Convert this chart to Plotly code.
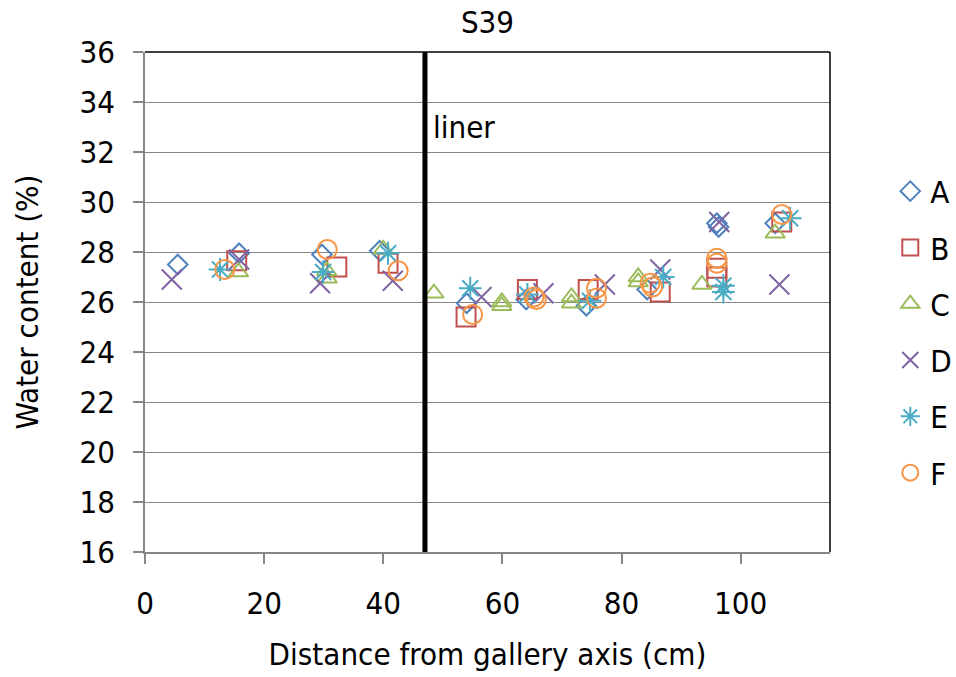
import plotly.graph_objects as go

# ---- data ----
series_names = ["A", "B", "C", "D", "E", "F"]

xA = [5.5, 15.8, 29.7, 39.4, 54.0, 64.0, 74.1, 84.3, 96.0, 96.3, 105.8]
yA = [27.5, 27.95, 27.9, 28.05, 25.95, 26.1, 25.85, 26.5, 29.15, 29.0, 29.15]

xB = [15.4, 32.2, 40.8, 53.9, 64.2, 74.4, 86.5, 96.0, 96.0, 106.9]
yB = [27.65, 27.4, 27.55, 25.4, 26.5, 26.5, 26.4, 27.35, 27.0, 29.2]

xC = [15.7, 30.5, 30.6, 40.0, 48.5, 59.9, 59.9, 71.6, 71.6, 82.8, 82.8, 93.5, 105.8]
yC = [27.2, 27.25, 26.95, 28.1, 26.35, 26.0, 25.85, 26.2, 25.95, 27.0, 26.8, 26.7, 28.75]

xD = [4.5, 15.8, 29.4, 41.6, 56.5, 66.9, 77.2, 86.5, 96.4, 106.5]
yD = [26.9, 27.7, 26.75, 26.85, 26.2, 26.35, 26.7, 27.3, 29.2, 26.7]

xE = [12.6, 29.9, 40.8, 54.6, 64.2, 74.7, 87.0, 97.1, 97.1, 108.3]
yE = [27.3, 27.2, 27.95, 26.55, 26.3, 26.05, 27.0, 26.65, 26.4, 29.35]

xF = [13.4, 30.6, 42.5, 55.0, 65.3, 65.7, 75.8, 75.8, 84.8, 85.2, 96.0, 96.0, 106.9]
yF = [27.3, 28.1, 27.25, 25.5, 26.2, 26.1, 26.55, 26.15, 26.75, 26.6, 27.75, 27.55, 29.5]

liner_x = 47
x_range = [0, 115]
y_range = [16, 36]

# ---- styling ----
FONT = "DejaVu Sans Condensed, Liberation Sans, sans-serif"
colors = ["#4F81BD", "#C0504D", "#9BBB59", "#8064A2", "#4BACC6", "#F79646"]
symbols = ["diamond-open", "square-open", "triangle-up-open", "x-thin-open",
           "asterisk-open", "circle-open"]
sizes = [15, 19, 17, 20, 19, 19]

xs = [xA, xB, xC, xD, xE, xF]
ys = [yA, yB, yC, yD, yE, yF]

fig = go.Figure()
for name, x, y, c, s, sz in zip(series_names, xs, ys, colors, symbols, sizes):
    fig.add_trace(go.Scatter(
        x=x, y=y, mode="markers", name=name, legendgroup=name,
        marker=dict(symbol=s, size=sz, color=c, line=dict(color=c, width=2)),
    ))

# liner
fig.add_shape(type="line", x0=liner_x, x1=liner_x, y0=y_range[0], y1=y_range[1],
              xref="x", yref="y", line=dict(color="black", width=5))
fig.add_annotation(x=liner_x + 1.0, y=33, text="liner", showarrow=False,
                   xanchor="left", yanchor="middle", font=dict(size=31, color="black", family=FONT))

# top / right border of plot area
fig.add_shape(type="line", x0=0, x1=1, y0=1, y1=1, xref="paper", yref="paper",
              line=dict(color="black", width=1.5))
fig.add_shape(type="line", x0=1, x1=1, y0=0, y1=1, xref="paper", yref="paper",
              line=dict(color="black", width=1.5))

fig.update_layout(
    width=956, height=677,
    margin=dict(l=145, r=126, t=52, b=125, autoexpand=False),
    paper_bgcolor="white", plot_bgcolor="white",
    font=dict(family=FONT, size=31, color="black"),
    title=dict(text="S39", x=0.5, xref="paper", y=1 - 22 / 677, yanchor="middle",
               font=dict(size=31, family=FONT, color="black")),
    showlegend=True,
    legend=dict(x=1.088, xanchor="left", y=0.44, yanchor="middle",
                tracegroupgap=13, font=dict(size=31, family=FONT, color="black"),
                bgcolor="rgba(0,0,0,0)"),
    xaxis=dict(range=x_range, dtick=20, tick0=0, showgrid=False, zeroline=False,
               automargin=False,
               showline=True, linecolor="#868686", linewidth=1.5,
               ticks="outside", ticklen=10, tickcolor="#868686", tickwidth=1.5,
               ticklabelstandoff=13,
               title=dict(text="Distance from gallery axis (cm)", standoff=23,
                          font=dict(size=31, family=FONT))),
    yaxis=dict(range=y_range, dtick=2, tick0=16, showgrid=True, gridcolor="#868686",
               gridwidth=1, zeroline=False, automargin=False,
               showline=True, linecolor="#868686", linewidth=1.5,
               ticks="outside", ticklen=10, tickcolor="#868686", tickwidth=1.5,
               ticklabelstandoff=12,
               title=dict(text="Water content (%)", standoff=32,
                          font=dict(size=31, family=FONT))),
)

fig.write_html("out.html", config={"displayModeBar": False},
               post_script="document.body.style.margin='0';document.body.style.padding='0';")
